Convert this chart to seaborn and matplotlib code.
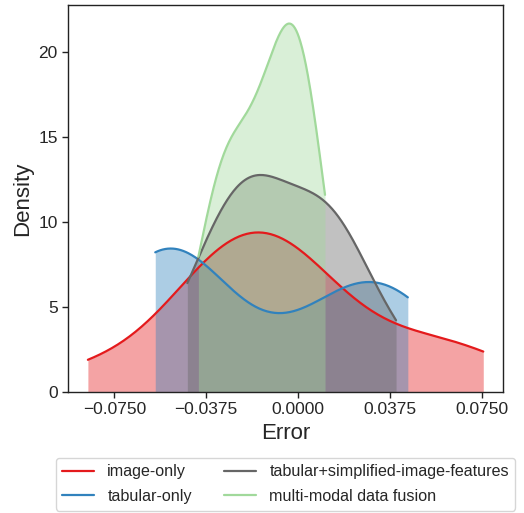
import numpy as np
import pandas as pd
import matplotlib
matplotlib.use("Agg")
import matplotlib.pyplot as plt
from matplotlib.lines import Line2D
import seaborn as sns

# Prediction errors per model (estimated from the reference density curves)
models = ["image-only", "tabular-only", "tabular+simplified-image-features", "multi-modal data fusion"]
err_image_only = [-0.0858, -0.0423, -0.0398, -0.0370, -0.0240, -0.0225, -0.0105,
                  -0.0081, -0.0036, 0.0003, 0.0093, 0.0368, 0.0556, 0.0756]
err_tabular_only = [-0.0583, -0.0529, -0.0528, -0.0528, -0.0520, -0.0519, -0.0516,
                    0.0022, 0.0295, 0.0295, 0.0297, 0.0331, 0.0448]
err_tab_simplified = [-0.0452, -0.0374, -0.0263, -0.0238, -0.0197, -0.0141, -0.0115,
                      0.0024, 0.0047, 0.0138, 0.0176, 0.0199, 0.0400]
err_fusion = [-0.0407, -0.0334, -0.0307, -0.0277, -0.0247, -0.0163, -0.0148, -0.0143,
              -0.0059, -0.0057, -0.0030, -0.0020, 0.0022, 0.0041, 0.0046, 0.0110]
colors = ["#e41a1c", "#3182bd", "#666666", "#a1d99b"]
xtick_vals = [-0.075, -0.0375, 0.0, 0.0375, 0.075]

series = [err_image_only, err_tabular_only, err_tab_simplified, err_fusion]
df = pd.DataFrame({
    "Model": np.repeat(models, [len(s) for s in series]),
    "Error": np.concatenate(series),
})

sns.set_style("ticks")
plt.rcParams["font.family"] = ["Liberation Sans", "DejaVu Sans"]
plt.rcParams["axes.unicode_minus"] = True

fig = plt.figure(figsize=(5.24, 5.13), dpi=100)
ax = fig.add_axes([0.130, 0.236, 0.830, 0.754])

for m, c in zip(models, colors):
    sub = df[df["Model"] == m]
    sns.kdeplot(data=sub, x="Error", ax=ax, fill=True, cut=0, color=c,
                alpha=0.4, linewidth=0)
for m, c in zip(models, colors):
    sub = df[df["Model"] == m]
    sns.kdeplot(data=sub, x="Error", ax=ax, fill=False, cut=0, color=c,
                linewidth=1.6)

ax.set_xticks(xtick_vals)
ax.set_xticklabels([f"{v:.4f}".replace("-", "\u2212") for v in xtick_vals])
ax.tick_params(labelsize=12.5, length=4, width=1, color="#222222")
ax.set_xlabel("Error", fontsize=16)
ax.set_ylabel("Density", fontsize=16)
for s in ax.spines.values():
    s.set_linewidth(1)
    s.set_color("#222222")

handles = [Line2D([0], [0], color=c, lw=1.6) for c in colors]
ax.legend(handles, models, loc="upper center", bbox_to_anchor=(0.5, -0.15),
          ncol=2, fontsize=11.6, frameon=True, handlelength=2.0,
          columnspacing=2.0, labelspacing=0.6)

fig.savefig("out.png", dpi=100)
